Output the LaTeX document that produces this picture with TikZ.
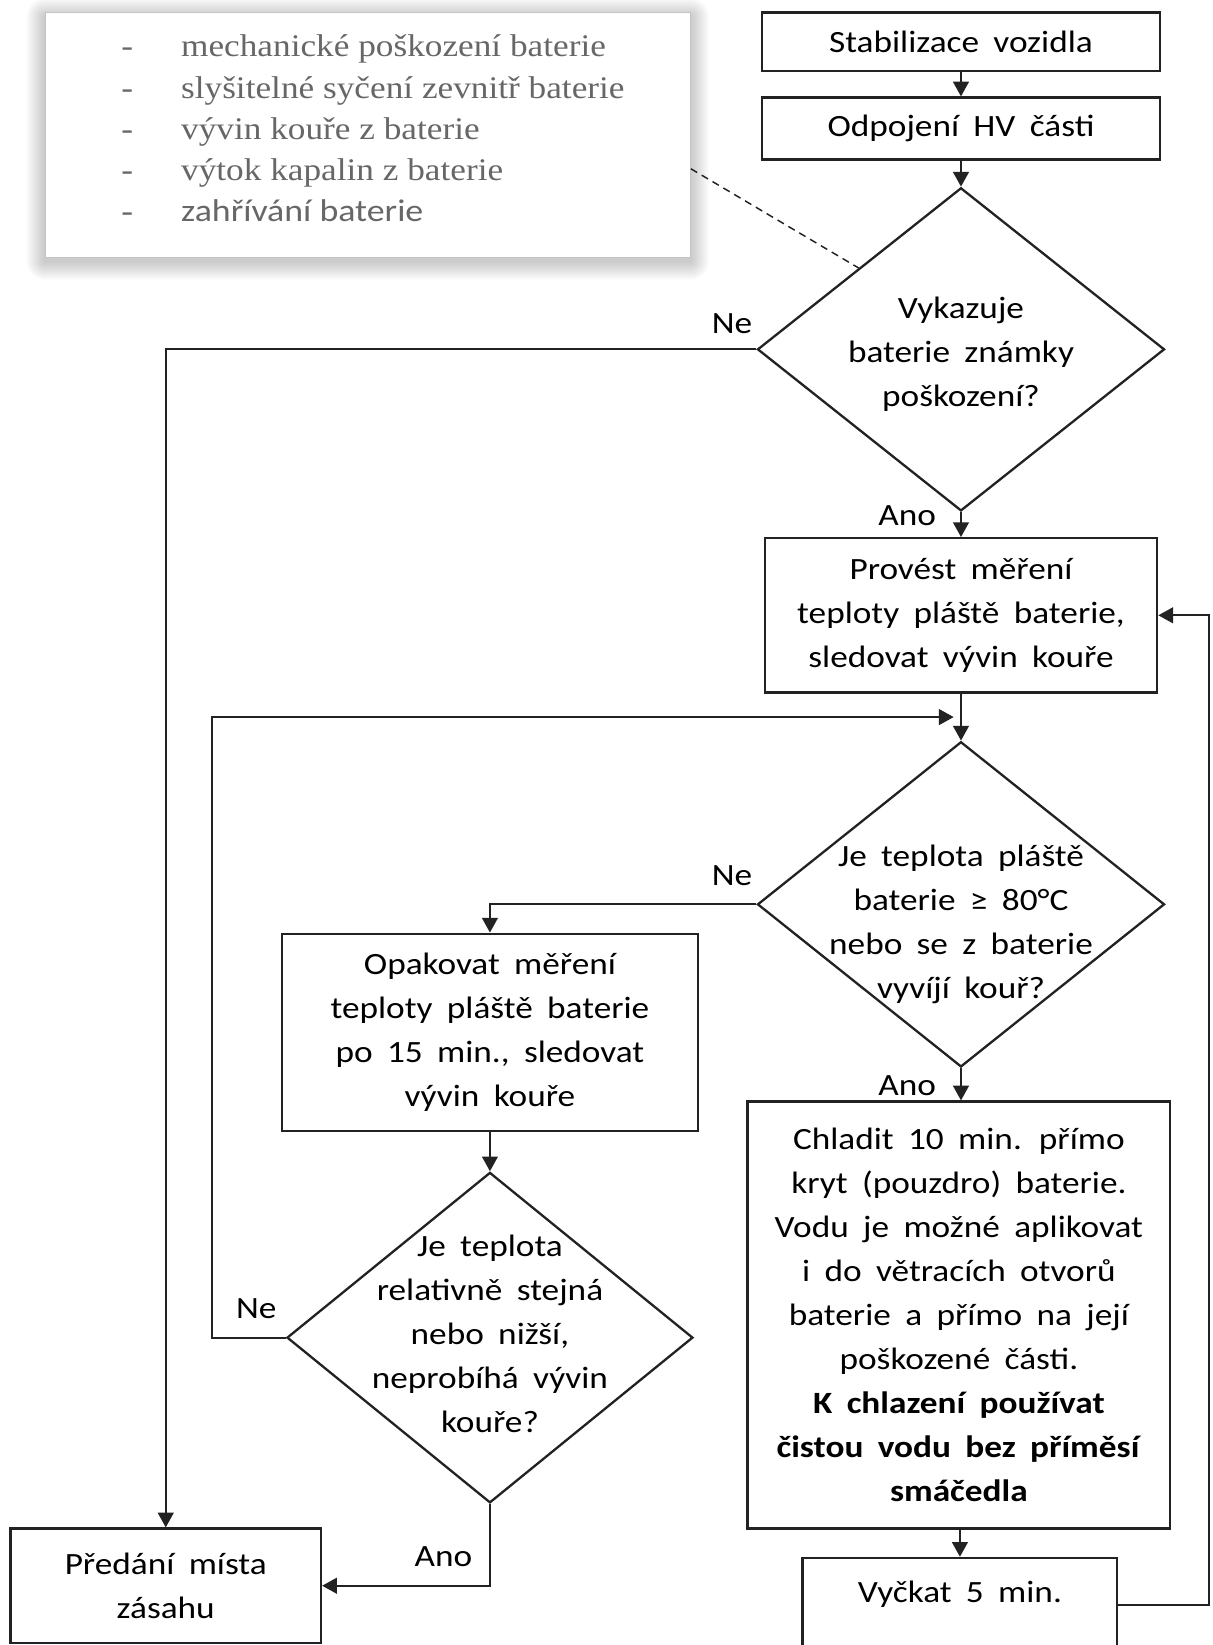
\documentclass[tikz,border=0pt]{standalone}
\usepackage{fontspec}
\setmainfont{Carlito}[FakeStretch=1.14,WordSpace=1.8]
\newfontfamily\legfont{Liberation Serif}[FakeStretch=1.12]
\newfontfamily\legsans{Carlito}[FakeStretch=1.14]
\usetikzlibrary{shapes.geometric,arrows.meta,calc,positioning}
\definecolor{lineblk}{HTML}{222222}
\definecolor{leggray}{HTML}{676767}
\definecolor{legbrd}{HTML}{C4C4C4}
\newcommand{\qtext}[2][0pt]{\makebox[0pt]{\raisebox{#1}{\smash{\begin{tabular}{@{}c@{}}#2\end{tabular}}}}}

\begin{document}
\begin{tikzpicture}[x=1pt,y=-1pt,>={Triangle[length=14pt,width=15pt]},
  every node/.style={font=\fontsize{29.5}{42}\selectfont},
  stepbox/.style={draw=lineblk,line width=2.2pt,align=center,inner sep=0pt},
  ask/.style={diamond,draw=lineblk,line width=2.2pt,inner sep=0pt,
    minimum width=388pt,minimum height=310pt},
  lbl/.style={inner sep=3pt},
  link/.style={draw=lineblk,line width=1.8pt,->}]
\useasboundingbox (0,0) rectangle (1156,1568);
% legend with shadow
\foreach \s in {1,...,18}
  \fill[black,opacity=0.01,rounded corners=\s pt] (43-\s,16-\s) rectangle (658+\s,249+\s);
\node[draw=legbrd,fill=white,line width=1pt,minimum width=615pt,minimum height=233pt] (legend) at (350.5,128.5) {};
\node[align=left,text=leggray,font=\legfont\fontsize{30}{39.25}\selectfont] (legtext) at ([xshift=5pt,yshift=6pt]legend.center) {
\makebox[57pt][l]{-}mechanické poškození baterie\\
\makebox[57pt][l]{-}slyšitelné syčení zevnitř baterie\\
\makebox[57pt][l]{-}vývin kouře z baterie\\
\makebox[57pt][l]{-}výtok kapalin z baterie\\
\makebox[57pt][l]{-}{\legsans zahřívání baterie}
};
% main column
\node[stepbox,minimum width=379pt,minimum height=56pt] (stab) at (916,40) {Stabilizace vozidla};
\node[stepbox,minimum width=379pt,minimum height=59pt] (odp) at (916,122.5) {Odpojení HV části};
\node[ask,minimum height=308pt] (q1) at (916,333) {\qtext[-21pt]{Vykazuje\\baterie známky\\poškození?}};
\node[stepbox,minimum width=374pt,minimum height=147pt] (prov) at (916,586.5) {
Provést měření\\teploty pláště baterie,\\sledovat vývin kouře};
\node[ask] (q2) at (916,862) {\qtext[-49pt]{Je teplota pláště\\baterie ≥ 80°C\\nebo se z baterie\\vyvíjí kouř?}};
\node[stepbox,minimum width=403pt,minimum height=407pt] (chlad) at (914,1253.5) {
Chladit 10 min. přímo\\kryt (pouzdro) baterie.\\Vodu je možné aplikovat\\i do větracích otvorů\\
baterie a přímo na její\\poškozené části.\\\textbf{K chlazení používat}\\
\textbf{čistou vodu bez příměsí}\\\textbf{smáčedla}};
\node[stepbox,minimum width=300pt,minimum height=90pt,text height=23pt,text depth=29pt] (vyck) at (915,1530) {Vyčkat 5 min.};
% left column
\node[stepbox,minimum width=397pt,minimum height=188pt] (opak) at (467,984) {
Opakovat měření\\teploty pláště baterie\\po 15 min., sledovat\\vývin kouře};
\node[ask,minimum width=387pt,minimum height=315pt] (q3) at (467,1275) {\qtext[-9pt]{Je teplota\\relativně stejná\\nebo nižší,\\neprobíhá vývin\\kouře?}};
\node[stepbox,minimum width=296pt,minimum height=109pt] (predani) at (158,1511.5) {Předání místa\\zásahu};
\coordinate (jn) at ($(prov.south)!0.5!(q2.north)$);
% connectors
\draw[link] (stab.south) -- (odp.north);
\draw[link] (odp.south) -- (q1.north);
\draw[link] (q1.south) -- node[lbl,pos=0.15,anchor=east,xshift=-20pt]{Ano} (q1.south |- prov.north);
\draw[link] (q1.west) node[lbl,anchor=south east,yshift=11pt]{Ne} -| (predani.north);
\draw[link] (prov.south) -- (q2.north);
\draw[link] (q2.west) node[lbl,anchor=south east,yshift=14pt]{Ne} -| (opak.north);
\draw[link] (q2.south) -- node[lbl,pos=0.55,anchor=east,xshift=-20pt]{Ano} (q2.south |- chlad.north);
\draw[link] (chlad.south -| vyck.north) -- (vyck.north);
\draw[link] (vyck.east) -- ++(86,0) |- (prov.east);
\draw[link] (opak.south) -- (q3.north);
\draw[link] (q3.west) node[lbl,anchor=south east,xshift=-5pt,yshift=14pt]{Ne} -- ++(-70,0) |- ([xshift=-7pt]jn);
\draw[link] (q3.south) |- node[lbl,anchor=south east,xshift=-13pt,yshift=14pt]{Ano} (predani.east);
\draw[draw=lineblk,line width=1.4pt,dash pattern=on 7pt off 5pt] (legend.-6.6) -- (q1.north west);
\end{tikzpicture}
\end{document}
